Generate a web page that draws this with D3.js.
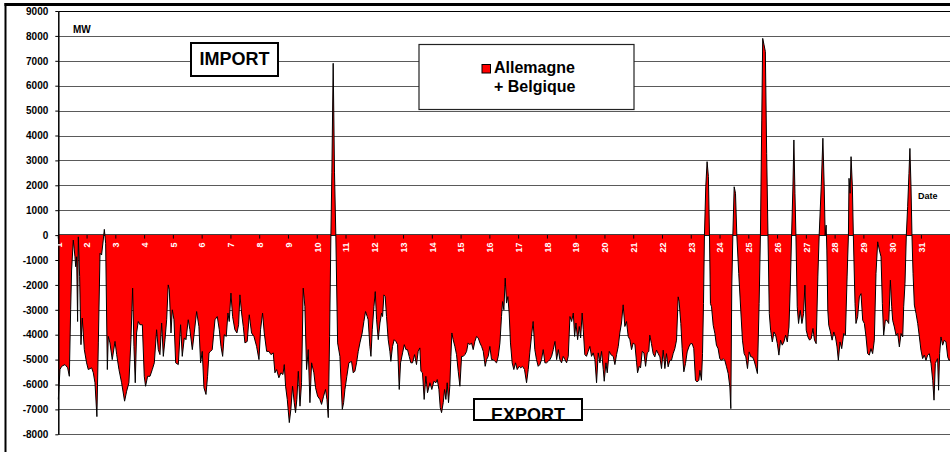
<!DOCTYPE html>
<html>
<head>
<meta charset="utf-8">
<script src="https://cdn.jsdelivr.net/npm/d3@7"></script>
<style>
  html, body { margin: 0; padding: 0; background: #fff; }
  svg { display: block; font-family: "Liberation Sans", Arial, Helvetica, sans-serif; font-weight: bold; }
</style>
</head>
<body>
<svg id="chart" width="950" height="452"></svg>
<script>
// Net exchange with Germany + Belgium over the month, in MW (positive = import).
// Time is given in hours from the start of day 1.
const hours = [
  0,1.4,2.8,5.6,7.8,9.2,10.3,11.1,12.5,13.9,
  14.5,15.3,16.1,16.7,17.8,18.9,20.0,21.7,23.6,25.0,
  27.8,29.2,30.6,32.2,33.4,34.8,36.1,37.5,38.4,39.5,
  40.9,41.7,43.1,45.0,47.3,48.7,50.6,52.8,55.3,57.0,
  58.9,60.6,62.0,63.1,64.2,65.3,66.7,68.1,70.1,71.7,
  72.8,74.5,76.5,78.4,80.1,82.0,83.4,84.8,86.2,87.6,
  89.0,90.4,91.7,92.6,94.0,95.1,96.5,97.9,100.1,102.0,
  103.4,105.1,106.5,108.4,109.8,111.8,113.4,115.4,117.3,118.7,
  120.1,121.5,123.2,124.5,125.7,127.0,128.4,130.7,132.6,134.3,
  135.7,137.1,138.4,140.1,141.5,142.6,144.0,145.4,147.3,149.0,
  150.4,151.5,152.9,154.3,155.7,157.6,159.3,161.2,163.2,165.4,
  167.4,168.7,170.4,171.8,173.8,175.7,177.4,179.3,180.7,182.1,
  184.0,185.7,187.4,188.5,189.6,191.0,192.7,194.0,195.4,196.8,
  197.9,199.0,200.2,201.6,202.9,204.3,205.7,207.1,208.5,209.9,
  211.3,213.2,214.6,216.3,218.2,219.6,221.3,222.9,224.1,225.2,
  226.3,227.4,228.2,229.3,230.4,231.5,233.0,234.9,236.9,238.0,
  239.1,240.7,242.4,244.6,246.0,247.4,248.8,250.2,251.6,253.5,
  254.9,256.3,257.7,258.5,259.9,260.8,261.9,263.3,264.4,265.5,
  266.9,268.3,269.7,270.5,271.6,272.7,273.8,275.2,276.6,277.4,
  278.8,280.2,281.6,283.0,284.4,285.5,287.2,288.6,290.0,291.3,
  292.7,294.1,295.5,297.2,298.8,300.2,301.6,302.5,303.8,305.2,
  306.6,308.0,310.0,311.6,313.3,315.0,316.1,317.5,318.6,319.7,
  321.1,322.2,323.3,324.4,325.5,326.6,327.5,328.3,329.4,330.8,
  332.2,333.6,335.0,336.4,337.8,339.2,340.6,341.9,343.3,344.7,
  346.1,347.5,348.9,350.3,351.7,353.1,354.5,356.1,357.3,358.6,
  360.0,361.4,362.8,364.2,365.6,367.0,368.4,369.7,370.6,371.7,
  372.8,373.9,375.0,376.1,377.2,378.6,380.0,381.4,382.8,384.4,
  385.8,387.2,388.9,390.6,392.0,393.3,394.7,396.1,397.5,398.9,
  400.3,401.7,403.1,404.5,405.9,407.3,408.7,410.1,411.5,412.9,
  414.3,415.7,417.1,418.4,419.8,421.2,422.6,424.0,425.4,426.8,
  428.2,429.6,430.7,431.8,433.2,434.6,435.7,437.0,437.9,439.2,
  440.6,442.0,443.4,444.8,446.2,447.6,449.0,450.4,451.8,453.2,
  454.6,455.4,456.8,457.9,459.6,460.9,462.9,464.3,465.7,467.1,
  468.4,469.8,471.2,472.6,474.0,475.4,476.8,478.2,479.6,481.0,
  482.4,483.2,484.6,485.7,487.1,488.5,489.9,491.3,492.6,493.4,
  494.8,496.2,497.6,499.0,500.4,501.8,503.2,504.6,506.0,507.3,
  508.7,510.1,511.5,512.9,514.3,515.7,517.1,517.9,519.3,520.4,
  521.8,523.2,524.6,526.0,527.4,528.8,530.1,531.5,532.9,534.3,
  535.2,536.5,537.4,538.2,539.0,540.1,541.2,542.3,543.2,544.0,
  544.9,546.3,547.7,549.0,550.4,551.8,553.2,554.6,556.0,557.4,
  558.8,560.2,561.0,561.8,562.7,563.8,564.9,566.0,567.6,569.3,
  570.7,572.1,573.5,574.9,576.3,577.7,579.0,580.4,581.8,583.2,
  584.6,585.7,586.8,587.6,588.7,589.8,590.9,592.0,593.1,594.2,
  595.6,597.0,598.4,599.8,601.1,602.5,603.9,605.3,606.7,608.1,
  609.5,610.6,611.7,612.8,613.6,614.5,615.3,616.4,617.5,618.9,
  620.3,621.7,622.8,623.9,625.3,626.7,628.1,629.5,630.8,632.2,
  633.6,634.7,636.4,637.8,638.9,639.7,640.5,641.1,641.9,642.7,
  644.1,645.5,646.9,648.3,649.6,650.7,652.1,653.5,655.2,656.6,
  658.0,659.1,659.6,660.5,661.3,662.4,663.2,664.6,665.4,666.8,
  668.2,669.6,671.0,672.4,673.8,675.1,676.5,677.9,679.3,680.7,
  682.1,683.5,684.9,686.3,687.4,688.5,689.9,691.3,692.7,694.1,
  695.2,696.0,697.4,698.8,700.2,701.6,703.0,704.4,705.2,706.3,
  707.4,708.5,709.6,710.4,711.3,712.1,713.0,714.1,715.5,716.9,
  718.3,719.6,721.0,722.4,723.8,725.2,726.6,728.0,729.4,730.5,
  731.6,732.7,733.5,734.3,735.2,736.3,737.7,739.1,740.5,741.9,
  743.0,744
];

const mw = [
  -6600,-5400,-5270,-5200,-5330,-5670,-3000,-1400,-200,-870,
  -1270,-870,-3470,-70,-1670,-4400,-3330,-4600,-5130,-5400,
  -5330,-5530,-5930,-7290,-4330,-730,-800,-200,230,-330,
  -5400,-4070,-4330,-5000,-4270,-4800,-5400,-5930,-6670,-6270,
  -5930,-4200,-2130,-4470,-5930,-3930,-3470,-3600,-3600,-5670,
  -6070,-5670,-5670,-5400,-5130,-3800,-4600,-4800,-3530,-4870,
  -4200,-3400,-2000,-2200,-3930,-3000,-3400,-5130,-5200,-3600,
  -4870,-4130,-4200,-3400,-3800,-4600,-3930,-3070,-3670,-5130,
  -4670,-6130,-6400,-5670,-4730,-4670,-4600,-3400,-3270,-3800,
  -4470,-4870,-4000,-4070,-3130,-3470,-2330,-3270,-3800,-3930,
  -3600,-2400,-3130,-3670,-4330,-4270,-3200,-3930,-4070,-4470,
  -5000,-3800,-3130,-3930,-4670,-4670,-4800,-4730,-5530,-5400,
  -5730,-5530,-5600,-5200,-6070,-6600,-7530,-7000,-6070,-6730,
  -7130,-6600,-5470,-6870,-5930,-2130,-2870,-5400,-4600,-6730,
  -5130,-5530,-6130,-6470,-6600,-6800,-6470,-6200,-6600,-7330,
  -4070,0,2500,6900,2500,0,-4330,-4870,-7000,-6730,
  -6200,-5670,-5130,-5070,-5530,-5470,-5130,-4670,-4330,-3930,
  -3470,-3070,-3270,-3400,-4470,-4870,-3800,-2870,-2270,-3400,
  -4200,-3530,-3130,-3270,-2400,-2470,-3270,-4200,-4670,-5070,
  -4470,-4200,-4270,-4400,-6200,-5130,-4730,-4400,-4600,-4600,
  -4870,-5130,-5130,-4800,-5200,-4670,-4530,-5470,-5530,-6600,
  -5670,-6330,-5930,-6200,-5870,-5930,-5800,-6200,-6930,-7130,
  -6730,-6200,-6600,-5930,-6730,-6070,-4870,-3930,-4200,-4470,
  -4800,-5470,-6070,-4870,-4870,-4800,-4670,-4330,-4400,-4330,
  -4600,-4270,-4070,-4130,-4330,-4470,-4670,-5270,-5000,-4870,
  -4470,-5000,-5000,-5070,-5130,-4870,-4330,-3270,-2670,-3000,
  -1730,-2730,-2470,-3130,-4330,-5130,-5400,-5130,-5400,-5270,
  -5330,-5270,-5400,-5930,-5400,-4730,-4070,-3470,-4600,-5000,
  -5270,-5200,-5000,-4600,-5130,-5130,-5070,-5000,-4870,-4600,
  -4270,-5000,-4600,-5000,-5130,-4870,-5000,-5130,-4870,-3270,
  -3470,-3130,-4070,-3530,-4200,-3670,-4130,-3130,-3800,-4800,
  -4870,-4670,-4470,-4870,-4730,-5000,-5930,-4730,-5130,-4670,
  -5400,-5870,-5130,-5530,-4670,-4800,-4870,-5200,-4800,-4470,
  -3930,-3530,-2800,-3670,-3470,-4070,-4200,-4600,-4330,-4400,
  -5130,-5530,-5270,-5330,-4670,-4730,-5270,-4730,-4670,-4020,
  -4360,-4760,-4890,-4620,-4760,-4890,-5360,-4620,-5360,-4760,
  -5290,-5030,-5030,-4760,-4560,-4220,-2480,-2680,-3550,-4560,
  -5490,-5160,-4690,-4490,-4360,-4360,-4560,-5830,-5900,-5830,
  -5430,-5830,-4760,-2750,0,1940,2950,2350,0,-2750,
  -2880,-3620,-3950,-4420,-4560,-4960,-5030,-4960,-5030,-5290,
  -5560,-6100,-6970,-2080,0,1940,1680,0,-1540,-3020,
  -4220,-4760,-4890,-5360,-4690,-4890,-4890,-5030,-5290,-5560,
  -2750,0,4620,7900,7640,7370,3280,0,-3150,-3820,
  -4290,-3890,-4020,-4360,-4820,-4220,-4420,-4290,-4020,-4290,
  -3690,-2080,0,1940,3820,1680,0,-2880,-3550,-3020,
  -3550,-3150,-2010,-3820,-4090,-4220,-4150,-3750,-4220,-4360,
  -1680,0,1940,3890,1940,0,400,-600,-3020,-3620,
  -3890,-4220,-3890,-4090,-4490,-5030,-4290,-4560,-3950,-4020,
  -1680,0,2280,1680,3150,1940,0,-2750,-3550,-3280,
  -2480,-2350,-3420,-3550,-4090,-4760,-4820,-4560,-4760,-4220,
  -1540,-270,-600,-870,-2750,-4020,-3420,-3420,-3550,-1810,
  -2880,-3420,-3690,-4020,-3950,-4490,-3950,-4090,-2880,-1940,
  0,1140,2480,3480,1940,0,-1540,-2810,-3150,-3550,
  -4090,-4620,-4960,-4820,-5030,-4820,-4760,-5160,-5830,-6630,
  -5160,-5030,-4960,-6230,-4760,-4090,-4420,-4220,-4290,-4890,
  -5030,-5000
];

const dayLabels = d3.range(1, 32).map(String);
const yTickValues = d3.range(-8000, 9001, 1000);
const seriesName = ["Allemagne", "+ Belgique"];

const svg = d3.select("#chart");
const W = 950, H = 452;

const x = d3.scaleLinear().domain([0, 744]).range([58.3, 950.2]);
const y = d3.scaleLinear().domain([-8000, 9000]).range([434.3, 11]);
const x0 = x.range()[0], x1 = W;
const yZero = y(0);

// outer frame: heavy rule on top, rule down the left side
svg.append("line").attr("x1", 4.5).attr("x2", W).attr("y1", 4.5).attr("y2", 4.5)
  .attr("stroke", "#000").attr("stroke-width", 3);
svg.append("line").attr("x1", 5.5).attr("x2", 5.5).attr("y1", 3).attr("y2", H)
  .attr("stroke", "#000").attr("stroke-width", 2);

// horizontal gridlines
svg.append("g").selectAll("line").data(yTickValues).join("line")
  .attr("x1", x0).attr("x2", x1)
  .attr("y1", d => Math.round(y(d)) + 0.5).attr("y2", d => Math.round(y(d)) + 0.5)
  .attr("stroke", d => d === 9000 ? "#000" : "#5a5a5a")
  .attr("stroke-width", 1);

// zero line
svg.append("line").attr("x1", x0).attr("x2", x1)
  .attr("y1", yZero).attr("y2", yZero)
  .attr("stroke", "#000").attr("stroke-width", 1.5);

const idx = d3.range(hours.length);

// filled exchange area, from the zero line to the value
svg.append("path")
  .datum(idx)
  .attr("fill", "#ff0000")
  .attr("d", d3.area().x(i => x(hours[i])).y0(yZero).y1(i => y(mw[i])));

// outline of the series
svg.append("path")
  .datum(idx)
  .attr("fill", "none")
  .attr("stroke", "#000")
  .attr("stroke-width", 1)
  .attr("stroke-linejoin", "round")
  .attr("d", d3.line().x(i => x(hours[i])).y(i => y(mw[i])));

// value axis
const yAxis = svg.append("g")
  .attr("transform", `translate(${x0},0)`)
  .call(d3.axisLeft(y).tickValues(yTickValues).tickSize(3).tickSizeOuter(0).tickPadding(7)
    .tickFormat(d => String(d)));
yAxis.select(".domain").attr("stroke", "#000").attr("stroke-width", 1.5);
yAxis.selectAll(".tick line").attr("stroke", "#000");
yAxis.selectAll(".tick text")
  .attr("font-family", "Liberation Sans, Arial, sans-serif")
  .attr("font-weight", "bold").attr("font-size", 10).attr("fill", "#000");

// day ticks on the zero line, with white day numbers inside the area
const days = svg.append("g");
days.selectAll("line").data(dayLabels).join("line")
  .attr("x1", (d, i) => x(i * 24)).attr("x2", (d, i) => x(i * 24))
  .attr("y1", yZero).attr("y2", yZero + 3.5)
  .attr("stroke", "#000").attr("stroke-width", 1);
days.selectAll("text").data(dayLabels).join("text")
  .attr("transform", (d, i) => `translate(${x(i * 24) + 3.3},${yZero + 7.5}) rotate(-90)`)
  .attr("text-anchor", "end")
  .attr("font-size", 9)
  .attr("fill", "#fff")
  .text(d => d);

// unit and axis captions
svg.append("text").attr("x", 73).attr("y", 33).attr("font-size", 10).text("MW");
svg.append("text").attr("x", 918).attr("y", 199).attr("font-size", 9).text("Date");

// IMPORT / EXPORT boxes
function labelBox(bx, by, bw, bh, label, tx, ty) {
  svg.append("rect").attr("x", bx).attr("y", by).attr("width", bw).attr("height", bh)
    .attr("fill", "#fff").attr("stroke", "#000").attr("stroke-width", 2);
  svg.append("text").attr("x", tx).attr("y", ty).attr("text-anchor", "middle")
    .attr("font-size", 18).text(label);
}
labelBox(191, 43, 87, 33, "IMPORT", 234.5, 65);
labelBox(474, 399, 108, 21, "EXPORT", 528, 420.5);

// legend
svg.append("rect").attr("x", 419).attr("y", 44.5).attr("width", 215).attr("height", 65)
  .attr("fill", "#fff").attr("stroke", "#222").attr("stroke-width", 1.2);
svg.append("rect").attr("x", 482).attr("y", 64.5).attr("width", 8.5).attr("height", 8.5)
  .attr("fill", "#ff0000").attr("stroke", "#000").attr("stroke-width", 1);
svg.append("text").attr("x", 494).attr("y", 73).attr("font-size", 16).text(seriesName[0]);
svg.append("text").attr("x", 494).attr("y", 91.5).attr("font-size", 16).text(seriesName[1]);
</script>
</body>
</html>
